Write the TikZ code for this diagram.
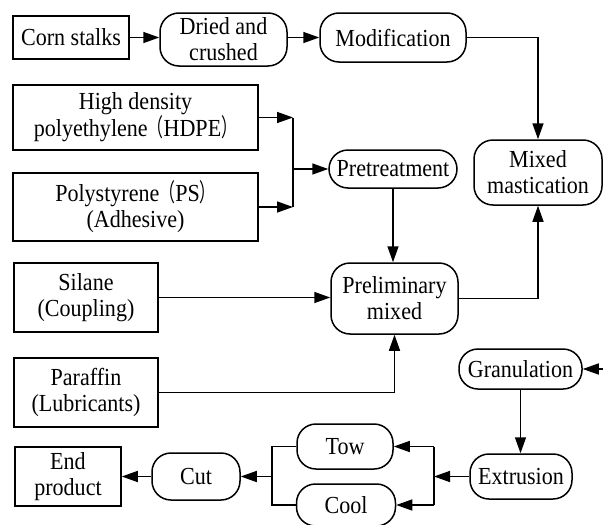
\documentclass[tikz,border=0pt]{standalone}
\usepackage{fontspec}
\setmainfont{Liberation Serif}[FakeStretch=0.9]
\newfontfamily\cjk{Noto Sans CJK SC}[FakeStretch=0.65]
\usetikzlibrary{arrows.meta}
\usetikzlibrary{positioning}

\tikzset{
  rectbox/.style={draw, line width=1.5pt, align=center, inner sep=1pt,
    font=\fontsize{24.5}{26}\selectfont},
  roundbox/.style={rectbox, rounded corners=19pt},
  flow/.style={line width=1.5pt, -{Triangle[length=16pt,width=11pt]}},
  link/.style={line width=1.5pt}
}

\begin{document}
\begin{tikzpicture}[x=1pt,y=-1pt]

\useasboundingbox (0,0) rectangle (603,525);
\clip (0,0) rectangle (603,525);

% raw materials
\node[rectbox, minimum width=116, minimum height=43] (corn) at (71,37.5) {Corn stalks};
\node[rectbox, minimum width=245, minimum height=65] (hdpe) at (135.5,117.5) {High density\\polyethylene{\cjk （}HDPE{\cjk ）}};
\node[rectbox, minimum width=245, minimum height=68] (ps) at (135.5,207) {Polystyrene{\cjk （}PS{\cjk ）}\\(Adhesive)};
\node[rectbox, minimum width=144, minimum height=69] (silane) at (86,297.5) {Silane\\(Coupling)};
\node[rectbox, minimum width=144, minimum height=69] (paraffin) at (86,392.5) {Paraffin\\(Lubricants)};
\node[rectbox, minimum width=106, minimum height=59] (endp) at (68,476.5) {End\\product};

% process steps
\node[roundbox, minimum width=127, minimum height=53] (dried) at (223.5,39.5) {Dried and\\crushed};
\node[roundbox, minimum width=146, minimum height=49] (modif) at (393,37.5) {Modification};
\node[roundbox, minimum width=128, minimum height=65] (mixmast) at (538,172.5) {Mixed\\mastication};
\node[roundbox, minimum width=128, minimum height=38] (pretreat) at (393,169) {Pretreatment};
\node[roundbox, minimum width=127, minimum height=71] (prelim) at (394.5,298.5) {Preliminary\\mixed};
\node[roundbox, minimum width=123, minimum height=40] (granul) at (520.5,369) {Granulation};
\node[roundbox, minimum width=102, minimum height=45] (extru) at (521,476.5) {Extrusion};
\node[roundbox, minimum width=96, minimum height=45] (tow) at (345,446.5) {Tow};
\node[roundbox, minimum width=99, minimum height=42] (cool) at (346,505) {Cool};
\node[roundbox, minimum width=88, minimum height=47] (cut) at (196,476.5) {Cut};

\coordinate (join) at (293,169);
\coordinate (split) at (434,476.5);
\coordinate (merge) at (272,476.5);
\coordinate (edgeA) at (606,172.5);
\coordinate (edgeB) at (606,369);

% top row
\draw[flow] (corn.east) -- (corn.east -| dried.west);
\draw[flow] (dried.east |- modif.west) -- (modif.west);
\draw[flow] (modif.east) -| (mixmast.north);

% polymers
\draw[flow] (hdpe.east) -- (hdpe.east -| join);
\draw[flow] (ps.east) -- (ps.east -| join);
\draw[link] (hdpe.east -| join) -- (ps.east -| join);
\draw[flow] (join) -- (pretreat.west);
\draw[flow] (pretreat.south) -- (pretreat.south |- prelim.north);

% additives
\draw[flow] (silane.east) -- (silane.east -| prelim.west);
\draw[flow] (paraffin.east) -| (prelim.south);
\draw[flow] (prelim.east) -| (mixmast.south);

% to granulation
\draw[link] (mixmast.east) -- (edgeA);
\draw[flow] (edgeB) -- (granul.east);
\draw[flow] (granul) -- (granul |- extru.north);

% bottom row
\draw[flow] (extru.west) -- (split);
\draw[link] (split |- tow.east) -- (split |- cool.east);
\draw[flow] (split |- tow.east) -- (tow.east);
\draw[flow] (split |- cool.east) -- (cool.east);
\draw[link] (tow.west) -| (merge) |- (cool.west);
\draw[flow] (merge) -- (cut.east);
\draw[flow] (cut) -- (endp);

\end{tikzpicture}
\end{document}
